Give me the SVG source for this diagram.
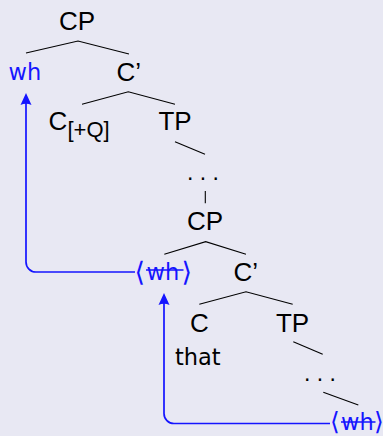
<svg xmlns="http://www.w3.org/2000/svg" width="383" height="436" viewBox="0 0 383 436">
  <style>
    .lbl { font-family: "Liberation Sans", Arial, sans-serif; font-size: 26px; fill: #000; }
    .low { font-family: "DejaVu Sans", sans-serif; font-size: 22.5px; }
    .sub { font-family: "Liberation Sans", Arial, sans-serif; font-size: 22px; fill: #000; }
    .dots { font-family: "Liberation Sans", Arial, sans-serif; font-size: 23px; fill: #000; }
    .blue { fill: #1515ff; }
    .ang { font-family: "DejaVu Sans", sans-serif; font-size: 27px; }
    .ang-s { font-family: "DejaVu Sans", sans-serif; font-size: 25px; }
    .edge { fill: none; stroke: #000; stroke-width: 1.1; }
    .move { fill: none; stroke: #1515ff; stroke-width: 1.7; }
    .strike { stroke: #1515ff; stroke-width: 1.4; }
  </style>
  <defs>
    <marker id="head" markerUnits="userSpaceOnUse" markerWidth="16" markerHeight="14" viewBox="-12 -7 16 14" refX="0" refY="0" orient="auto">
      <path d="M2,0 L-10,-5.5 Q-7.5,0 -10,5.5 Z" fill="#1515ff"/>
    </marker>
  </defs>

  <rect width="383" height="436" fill="#e8e8f3"/>

  <!-- tree branches and movement arrows -->
  <g id="connectors">
    <polyline class="edge" points="26,53 78,41 129,54"/>
    <polyline class="edge" points="82,104.3 128.3,91.7 175,104.3"/>
    <line class="edge" x1="175" y1="141.7" x2="205" y2="154.3"/>
    <line class="edge" x1="205.3" y1="191" x2="205.3" y2="203.3"/>
    <polyline class="edge" points="164.3,254.3 205.7,241.7 246,254.3"/>
    <polyline class="edge" points="199.3,304.3 246,291.7 292.7,304.3"/>
    <line class="edge" x1="293.3" y1="341.7" x2="322.7" y2="354.3"/>
    <line class="edge" x1="323.3" y1="392.3" x2="358.3" y2="405"/>

    <path class="move" d="M135,272 H36 A10,10 0 0 1 26,262 V95" marker-end="url(#head)"/>
    <path class="move" d="M330,423.5 H174 A10,10 0 0 1 164,413.5 V295" marker-end="url(#head)"/>
  </g>

  <g id="cp-top"><text class="lbl" x="77" y="29.5" text-anchor="middle">CP</text></g>
  <g id="wh-top"><text class="low blue" x="8.5" y="80">wh</text></g>
  <g id="cbar-top"><text class="lbl" x="116.5" y="81">C’</text></g>
  <g id="c-q"><text class="lbl" x="48.5" y="130">C<tspan class="sub" x="67.5" y="137">[+Q]</tspan></text></g>
  <g id="tp-top"><text class="lbl" x="175" y="129.5" text-anchor="middle">TP</text></g>
  <g id="dots-top"><text class="dots" x="203" y="179.5" text-anchor="middle">. . .</text></g>
  <g id="cp-mid"><text class="lbl" x="205" y="229.5" text-anchor="middle">CP</text></g>
  <g id="wh-mid">
    <text class="blue" y="280.5"><tspan class="ang" x="134.5">⟨</tspan><tspan class="low" x="146.5" y="280">wh</tspan><tspan class="ang" x="181.5" y="280.5">⟩</tspan></text>
    <line class="strike" x1="146" y1="270" x2="183.5" y2="270"/>
  </g>
  <g id="cbar-mid"><text class="lbl" x="233.5" y="280.5">C’</text></g>
  <g id="c-that">
    <text class="lbl" x="199.5" y="331.5" text-anchor="middle">C</text>
    <text class="low" x="175" y="365">that</text>
  </g>
  <g id="tp-mid"><text class="lbl" x="292.5" y="331.5" text-anchor="middle">TP</text></g>
  <g id="dots-low"><text class="dots" x="320" y="380.5" text-anchor="middle">. . .</text></g>
  <g id="wh-low">
    <text class="blue" y="429.5"><tspan class="ang-s" x="330">⟨</tspan><tspan class="low" x="341" y="430">wh</tspan><tspan class="ang-s" x="374" y="429.5">⟩</tspan></text>
    <line class="strike" x1="341" y1="422" x2="375.5" y2="422"/>
  </g>
</svg>
